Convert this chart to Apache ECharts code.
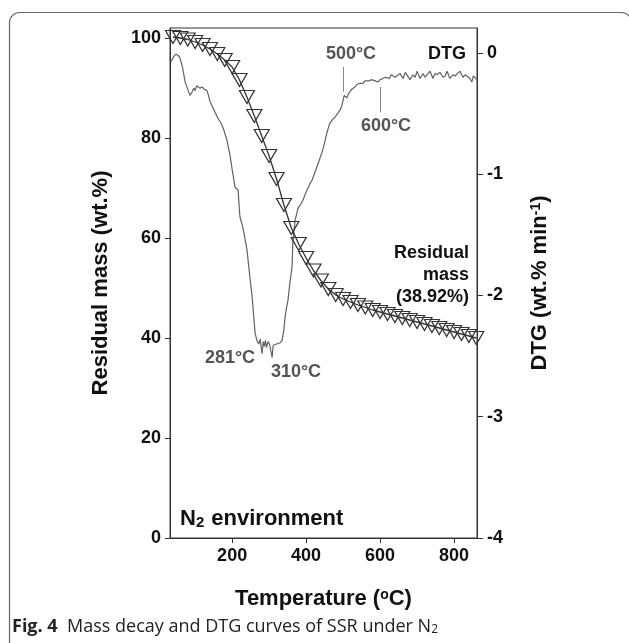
<!DOCTYPE html>
<html>
<head>
<meta charset="utf-8">
<script src="https://cdn.jsdelivr.net/npm/echarts@6/dist/echarts.min.js"></script>
<style>
  html, body { margin: 0; padding: 0; background: #fff; }
  #chart { width: 629px; height: 643px; }
</style>
</head>
<body>
<div id="chart"></div>
<script>
// residual mass (left axis), one marker every ~20 C
const massTemp = [40, 60, 80, 100, 120, 140, 160, 180, 200, 220, 240, 260, 280, 300, 320, 340, 360, 380,
  400, 420, 440, 460, 480, 500, 520, 540, 560, 580, 600, 620, 640, 660, 680, 700, 720, 740, 760, 780,
  800, 820, 840, 860];
const massValue = [100.2, 100.0, 99.7, 99.2, 98.6, 97.8, 96.8, 95.6, 94.2, 91.6, 88.2, 84.4, 80.4, 76.4,
  71.8, 66.6, 62.0, 58.8, 56.0, 53.5, 51.5, 49.8, 48.6, 47.8, 47.2, 46.6, 46.1, 45.6, 45.2, 44.8, 44.4,
  44.0, 43.6, 43.2, 42.8, 42.4, 42.0, 41.6, 41.2, 40.8, 40.4, 40.0];

// DTG curve (right axis)
const dtgTemp = [35, 42, 48, 54, 59, 66, 73, 80, 86, 92, 96, 100, 104, 108, 113, 119, 125, 132, 136, 140,
  148, 154, 162, 170, 176, 186, 194, 200, 208, 213, 216, 221, 229, 234, 240, 248, 254, 262, 267, 272, 276,
  279, 281, 284, 287, 290, 293, 297, 301, 305, 308, 311, 315, 320, 324, 330, 335, 340, 343, 347, 351, 356,
  362, 364, 370, 375, 378, 385, 392, 398, 404, 410, 416, 422, 429, 436, 443, 450, 456, 460, 464, 471, 478,
  485, 492, 496, 500, 503, 505, 510, 514, 519, 523, 527, 532, 537, 541, 546, 550, 554, 559, 564, 570, 576,
  581, 587, 594, 600, 608, 614, 619, 625, 630, 635, 641, 646, 654, 662, 668, 673, 681, 689, 695, 700, 708,
  716, 722, 727, 735, 743, 748, 754, 762, 770, 776, 781, 789, 797, 803, 808, 816, 824, 830, 835, 843, 848,
  852, 856, 862];
const dtgValue = [-0.07, -0.03, -0.01, -0.02, -0.04, -0.12, -0.24, -0.30, -0.35, -0.32, -0.29, -0.31, -0.27,
  -0.26, -0.29, -0.28, -0.30, -0.31, -0.35, -0.40, -0.45, -0.49, -0.54, -0.58, -0.62, -0.72, -0.84, -0.96,
  -1.11, -1.12, -1.13, -1.35, -1.44, -1.52, -1.62, -1.85, -2.01, -2.31, -2.37, -2.40, -2.36, -2.44, -2.48,
  -2.38, -2.42, -2.37, -2.43, -2.38, -2.40, -2.46, -2.51, -2.41, -2.40, -2.40, -2.41, -2.39, -2.37, -2.28,
  -2.18, -2.10, -2.04, -1.90, -1.76, -1.57, -1.38, -1.32, -1.28, -1.25, -1.21, -1.16, -1.12, -1.08, -1.05,
  -1.00, -0.94, -0.88, -0.82, -0.74, -0.66, -0.62, -0.58, -0.55, -0.53, -0.50, -0.47, -0.44, -0.39, -0.35,
  -0.36, -0.37, -0.34, -0.33, -0.30, -0.29, -0.28, -0.26, -0.27, -0.25, -0.24, -0.25, -0.23, -0.24, -0.23,
  -0.22, -0.22, -0.23, -0.24, -0.22, -0.21, -0.20, -0.20, -0.21, -0.18, -0.18, -0.20, -0.19, -0.17, -0.21,
  -0.16, -0.15, -0.22, -0.18, -0.20, -0.15, -0.21, -0.17, -0.20, -0.19, -0.15, -0.21, -0.17, -0.18, -0.16,
  -0.20, -0.19, -0.15, -0.21, -0.18, -0.19, -0.17, -0.15, -0.20, -0.18, -0.19, -0.21, -0.24, -0.19, -0.20,
  -0.22];

const xTicks = [200, 400, 600, 800];

const font = '"Liberation Sans", Arial, sans-serif';
const capFont = '"Open Sans", sans-serif';
const axisColor = '#333';

const chart = echarts.init(document.getElementById('chart'));

const labelStyle = { color: '#111', fontFamily: font, fontWeight: 'bold', fontSize: 18 };
const nameStyle = {
  color: '#111', fontFamily: font, fontWeight: 'bold', fontSize: 22,
  rich: {
    b: { fontFamily: font, fontWeight: 'bold', fontSize: 22, color: '#111' },
    sup: { fontFamily: font, fontWeight: 'bold', fontSize: 14, color: '#111', verticalAlign: 'top' }
  }
};

chart.setOption({
  animation: false,
  grid: { left: 170, right: 152, top: 28, bottom: 105, show: true, borderColor: axisColor, borderWidth: 1 },
  xAxis: {
    type: 'value', min: 32, max: 862,
    name: '{b|Temperature (}{sup|o}{b|C)}', nameLocation: 'middle', nameGap: 50,
    nameTextStyle: nameStyle,
    splitLine: { show: false },
    axisLine: { lineStyle: { color: axisColor } },
    axisTick: { customValues: xTicks, length: 5, lineStyle: { color: axisColor } },
    axisLabel: Object.assign({ customValues: xTicks, margin: 9 }, labelStyle)
  },
  yAxis: [{
    type: 'value', min: 0, max: 102, interval: 20, position: 'left',
    name: 'Residual mass (wt.%)', nameLocation: 'middle', nameGap: 58,
    nameTextStyle: nameStyle,
    splitLine: { show: false },
    axisLine: { show: true, lineStyle: { color: axisColor } },
    axisTick: { show: true, length: 5, lineStyle: { color: axisColor } },
    axisLabel: Object.assign({ margin: 9, showMaxLabel: false }, labelStyle)
  }, {
    type: 'value', min: -4, max: 0.206, interval: 1, position: 'right',
    name: '{b|DTG (wt.% min}{sup|-1}{b|)}', nameLocation: 'middle', nameGap: 52, nameRotate: 90,
    nameTextStyle: nameStyle,
    splitLine: { show: false },
    axisLine: { show: true, lineStyle: { color: axisColor } },
    axisTick: { show: true, length: 6, lineStyle: { color: axisColor } },
    axisLabel: Object.assign({ margin: 10, showMaxLabel: false }, labelStyle)
  }],
  series: [{
    name: 'DTG', type: 'line', yAxisIndex: 1,
    data: dtgTemp.map((t, i) => [t, dtgValue[i]]),
    showSymbol: false, symbol: 'none',
    lineStyle: { color: '#626262', width: 1.2 },
    markLine: {
      silent: true, symbol: 'none', label: { show: false },
      lineStyle: { color: '#888', width: 1, type: 'solid' },
      data: [
        [{ coord: [500, -0.115] }, { coord: [500, -0.32] }],
        [{ coord: [600, -0.28] }, { coord: [600, -0.49] }]
      ]
    },
    z: 2
  }, {
    name: 'Residual mass', type: 'line', yAxisIndex: 0,
    data: massTemp.map((t, i) => [t, massValue[i]]),
    symbol: 'triangle', symbolRotate: 180, symbolSize: [15, 13],
    lineStyle: { color: '#333', width: 1.3 },
    itemStyle: { color: 'rgba(255,255,255,0)', borderColor: '#333', borderWidth: 1.2 },
    z: 3
  }],
  graphic: [
    { type: 'rect', silent: true, shape: { x: 9.5, y: 12.5, width: 622, height: 720, r: 10 },
      style: { fill: 'none', stroke: '#666', lineWidth: 1.2 } },
    { type: 'text', x: 351, y: 54, style: { text: '500°C', font: 'bold 18px ' + font, fill: '#555', align: 'center', verticalAlign: 'middle' } },
    { type: 'text', x: 386, y: 126, style: { text: '600°C', font: 'bold 18px ' + font, fill: '#555', align: 'center', verticalAlign: 'middle' } },
    { type: 'text', x: 447, y: 54, style: { text: 'DTG', font: 'bold 18px ' + font, fill: '#111', align: 'center', verticalAlign: 'middle' } },
    { type: 'text', x: 230, y: 358, style: { text: '281°C', font: 'bold 18px ' + font, fill: '#555', align: 'center', verticalAlign: 'middle' } },
    { type: 'text', x: 296, y: 372, style: { text: '310°C', font: 'bold 18px ' + font, fill: '#555', align: 'center', verticalAlign: 'middle' } },
    { type: 'text', x: 469, y: 275, style: { text: 'Residual\nmass\n(38.92%)', font: 'bold 18px ' + font, lineHeight: 22, fill: '#111', align: 'right', verticalAlign: 'middle' } },
    { type: 'text', x: 180, y: 519, style: {
      text: '{b|N}{sub|2}{b| environment}', align: 'left', verticalAlign: 'middle',
      rich: {
        b: { fontFamily: font, fontWeight: 'bold', fontSize: 22, fill: '#111' },
        sub: { fontFamily: font, fontWeight: 'bold', fontSize: 15, fill: '#111', verticalAlign: 'bottom', padding: [0, 1, 0, 0] }
      } } },
    { type: 'text', x: 12, y: 627, style: {
      text: '{b|Fig. 4}{r|  Mass decay and DTG curves of SSR under N}{s|2}', align: 'left', verticalAlign: 'middle',
      rich: {
        b: { fontFamily: capFont, fontWeight: 'bold', fontSize: 18, fill: '#222' },
        r: { fontFamily: capFont, fontSize: 18, fill: '#222' },
        s: { fontFamily: capFont, fontSize: 12, fill: '#222', verticalAlign: 'bottom' }
      } } }
  ]
});
</script>
</body>
</html>
